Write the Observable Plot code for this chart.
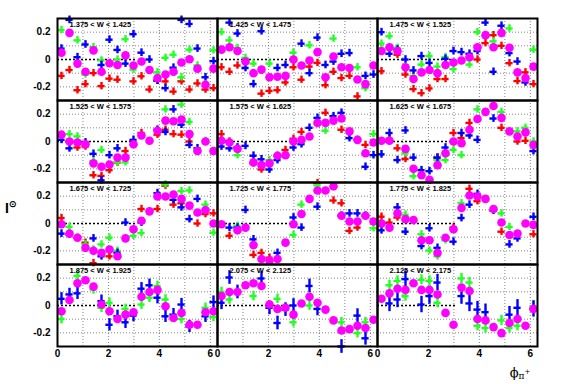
<!DOCTYPE html>
<html><head><meta charset="utf-8">
<script src="https://cdn.jsdelivr.net/npm/d3@7"></script>
<script src="https://cdn.jsdelivr.net/npm/@observablehq/plot@0.6"></script>
<style>body{margin:0;background:#fff} #chart{width:567px;height:384px}</style>
</head><body><div id="chart"></div>
<script>
// ---- data ----
const panelLabels = [
  "1.375 < W < 1.425", "1.425 < W < 1.475", "1.475 < W < 1.525",
  "1.525 < W < 1.575", "1.575 < W < 1.625", "1.625 < W < 1.675",
  "1.675 < W < 1.725", "1.725 < W < 1.775", "1.775 < W < 1.825",
  "1.875 < W < 1.925", "2.075 < W < 2.125", "2.125 < W < 2.175"
];
const nBins = 20;
const xTicks = [0, 2, 4, 6];
const yTicks = [-0.2, 0, 0.2];
const xGrid = [1, 2, 3, 4, 5, 6];
const yGrid = [-0.2, -0.1, 0.1, 0.2];

const red = [
  [-0.12,-0.077,-0.225,-0.18,-0.10,-0.195,-0.14,-0.148,null,-0.16,-0.123,-0.22,-0.155,-0.16,-0.235,-0.16,-0.22,-0.175,-0.22,-0.21],
  [-0.057,-0.09,-0.044,null,null,-0.25,-0.23,-0.225,-0.168,-0.057,-0.148,-0.052,-0.025,-0.188,-0.09,-0.136,-0.12,-0.27,null,null],
  [-0.086,null,0.035,-0.11,-0.217,-0.247,-0.212,-0.143,-0.143,null,null,null,0.0,0.12,0.178,0.1,-0.027,-0.158,-0.094,-0.18],
  [null,null,-0.044,-0.037,-0.247,-0.252,-0.21,-0.155,-0.07,null,0.062,null,0.05,0.086,0.054,0.05,0.0,null,null,null],
  [0.054,0.0,null,null,-0.16,-0.205,null,-0.104,-0.062,0.02,0.07,null,null,0.21,null,0.086,null,0.012,-0.025,null],
  [null,0.02,-0.05,-0.128,null,null,null,-0.118,null,0.062,0.025,0.136,null,null,null,0.1,null,0.0,0.005,null],
  [0.04,null,-0.104,-0.14,-0.29,null,-0.24,null,null,null,0.106,null,0.106,0.277,0.138,0.148,null,0.0,0.069,0.074],
  [null,-0.09,null,null,-0.23,-0.215,-0.25,null,null,null,null,null,0.296,null,0.168,0.148,-0.054,-0.03,null,null],
  [0.05,0.007,0.044,null,null,null,null,null,null,-0.03,null,0.254,0.163,null,null,-0.06,null,null,null,-0.079],
  null, null, null
];
const green = [
  [0.215,null,0.14,-0.11,0.09,-0.007,null,0.0,0.148,-0.074,null,null,-0.094,0.012,0.035,-0.13,0.072,-0.044,null,0.067],
  [0.2,0.14,0.084,0.012,-0.03,null,-0.03,null,null,0.05,null,0.104,null,null,0.153,null,null,-0.057,-0.21,null],
  [0.116,0.17,0.086,null,-0.12,-0.037,0.025,-0.052,0.017,-0.07,null,-0.037,0.2,null,0.133,null,0.227,null,null,0.072],
  [null,0.054,0.037,null,-0.143,-0.062,null,-0.153,-0.153,null,null,null,null,0.235,null,0.27,0.143,-0.07,0.005,null],
  [null,null,-0.1,null,null,null,-0.136,null,null,null,null,null,null,0.079,null,null,null,null,null,0.054],
  [null,null,null,-0.086,-0.254,null,null,-0.136,-0.136,-0.062,-0.1,null,0.235,null,null,0.217,null,0.074,0.1,0.0],
  [null,-0.025,null,-0.153,-0.19,-0.153,-0.104,-0.2,null,-0.09,-0.07,null,null,0.286,null,0.237,0.242,null,0.138,-0.067],
  [null,null,-0.017,null,null,null,null,null,null,-0.084,0.138,null,0.279,null,null,null,null,null,null,-0.035],
  [null,null,null,0.064,null,-0.079,-0.198,-0.24,-0.123,null,0.148,null,null,null,null,0.074,-0.025,null,null,null],
  [-0.099,null,0.217,null,0.118,-0.017,0.02,null,-0.025,null,0.007,0.057,0.143,0.044,null,-0.099,null,null,-0.017,-0.084],
  [0.099,0.044,null,null,0.069,null,null,0.049,null,-0.123,null,0.0,null,null,null,-0.123,null,-0.202,-0.123,null],
  [null,0.148,0.18,0.069,null,0.188,0.18,0.02,null,null,0.198,0.168,-0.148,-0.165,null,-0.109,-0.165,-0.148,null,-0.005]
];
const blue = [
  [0.08,0.29,0.017,0.11,null,-0.04,0.145,0.07,-0.03,0.185,0.05,0.0,-0.155,-0.21,-0.06,0.29,0.26,0.08,-0.13,-0.012],
  [null,0.27,0.19,-0.062,-0.18,0.207,null,-0.062,-0.04,null,0.116,-0.1,0.16,-0.04,-0.015,0.042,0.047,null,-0.12,-0.11],
  [0.2,0.042,0.072,0.0,-0.08,0.025,-0.025,null,0.005,0.062,0.054,0.042,0.062,0.27,-0.09,0.247,0.047,-0.015,-0.168,null],
  [0.012,-0.05,null,-0.007,-0.09,-0.284,-0.1,-0.05,null,0.012,null,null,0.086,0.07,0.235,0.123,-0.025,-0.05,null,null],
  [-0.037,-0.05,-0.044,-0.032,-0.104,-0.13,-0.205,-0.136,null,-0.044,-0.02,0.1,0.173,null,0.185,0.21,0.025,null,-0.185,-0.1],
  [-0.094,0.062,-0.136,0.081,-0.118,-0.21,-0.217,-0.118,-0.044,null,0.062,0.044,0.012,null,0.168,null,null,null,null,-0.07],
  [-0.074,-0.079,null,null,-0.109,-0.24,null,-0.215,0.007,null,0.007,null,0.222,null,0.173,0.118,0.032,0.18,null,null],
  [null,-0.03,-0.03,0.099,-0.116,null,null,-0.215,null,0.044,-0.03,null,0.123,null,null,0.057,0.074,0.074,0.057,null],
  [-0.05,null,0.118,-0.06,null,-0.165,-0.035,-0.178,null,-0.133,0.04,0.138,0.217,null,0.094,null,-0.153,-0.109,null,0.049],
  [0.049,0.081,0.089,null,null,0.032,-0.141,-0.079,-0.123,-0.074,0.123,0.148,0.057,-0.079,-0.067,0.007,-0.153,null,-0.079,0.025],
  [0.02,0.205,0.099,null,null,0.198,-0.017,-0.128,-0.03,0.0,null,0.143,-0.025,null,null,-0.3,null,-0.074,-0.24,null],
  [null,0.015,0.044,0.193,null,0.007,0.069,0.168,null,null,0.069,0.015,-0.03,-0.049,null,null,-0.067,-0.017,null,-0.025]
];
const magenta = [
  [0.05,0.195,-0.03,-0.09,0.067,-0.09,-0.027,-0.04,0.03,-0.044,-0.015,-0.077,-0.136,-0.11,-0.09,-0.022,0.002,-0.067,-0.185,-0.067],
  [0.072,0.09,0.062,-0.015,-0.10,-0.074,-0.13,-0.126,-0.12,0.0,-0.044,-0.007,0.054,-0.13,0.022,-0.057,-0.062,-0.146,-0.18,-0.044],
  [0.062,0.09,0.062,-0.057,-0.143,-0.094,-0.077,-0.10,-0.04,-0.022,-0.007,0.017,0.09,0.178,0.09,0.195,0.086,-0.094,-0.136,-0.052],
  [0.05,0.0,-0.007,-0.02,-0.16,-0.185,-0.168,-0.118,-0.118,-0.02,0.044,0.005,0.079,0.153,0.148,0.16,0.054,-0.07,0.0,-0.07],
  [0.005,-0.007,-0.054,null,-0.153,-0.173,-0.16,-0.104,-0.1,0.0,0.012,0.037,0.136,0.136,0.153,0.168,0.074,0.012,-0.086,-0.007],
  [0.005,0.005,null,-0.054,-0.2,-0.247,-0.28,-0.173,-0.086,0.0,-0.012,0.086,0.165,0.217,0.26,0.173,0.074,0.037,0.067,-0.025],
  [-0.005,-0.074,-0.104,-0.178,-0.2,-0.215,-0.19,-0.24,-0.109,-0.042,0.02,0.089,0.198,0.198,0.212,0.18,0.131,0.081,0.099,0.0],
  [-0.005,null,-0.05,-0.03,-0.158,-0.26,-0.272,-0.26,-0.14,-0.005,0.069,0.18,0.242,0.242,0.272,0.057,0.015,0.015,0.057,0.015],
  [0.0,-0.03,0.074,0.032,0.025,-0.123,-0.123,-0.215,-0.104,-0.042,0.114,0.205,0.198,0.18,0.106,0.007,-0.084,-0.074,0.0,-0.01],
  [-0.042,0.04,0.163,0.185,0.138,0.007,-0.042,-0.099,-0.067,-0.049,0.064,0.099,0.114,-0.005,-0.091,-0.054,-0.141,-0.141,-0.049,-0.042],
  [0.069,0.099,0.099,0.148,0.163,0.143,0.007,-0.025,-0.017,-0.067,0.015,0.064,0.02,-0.03,-0.109,-0.183,-0.173,-0.148,-0.165,-0.104],
  [0.049,0.089,0.123,0.114,0.163,0.114,0.114,0.081,-0.054,-0.141,0.131,0.106,-0.099,-0.109,-0.158,-0.202,-0.128,-0.099,-0.148,-0.025]
];
const errRed   = [0.027,0.027,0.027,0.027,0.027,0.027,0.027,0.027,0.027,0,0,0];
const errGreen = [0.027,0.027,0.027,0.027,0.027,0.027,0.027,0.027,0.027,0.035,0.035,0.037];
const errBlue  = [0.028,0.028,0.028,0.028,0.028,0.028,0.028,0.028,0.028,0.045,0.05,0.06];

// ---- build ----
const phi = d3.range(nBins).map(i => (i + 0.5) * 2 * Math.PI / nBins);
const halfBin = Math.PI / nBins * 0.9;

function toRows(series, err) {
  const out = [];
  series.forEach((vals, p) => {
    if (!vals) return;
    vals.forEach((v, i) => {
      if (v == null) return;
      out.push({row: Math.floor(p / 3), col: p % 3, phi: phi[i], v, e: err ? err[p] : 0});
    });
  });
  return out;
}
const labelRows = panelLabels.map((t, p) => ({row: Math.floor(p / 3), col: p % 3, t}));

function crosses(data, color) {
  return [
    Plot.ruleX(data, {x: "phi", y1: d => d.v - d.e, y2: d => d.v + d.e, fx: "col", fy: "row", stroke: color, strokeWidth: 2.4}),
    Plot.ruleY(data, {y: "v", x1: d => d.phi - halfBin, x2: d => d.phi + halfBin, fx: "col", fy: "row", stroke: color, strokeWidth: 2.4})
  ];
}

const svg = Plot.plot({
  width: 567, height: 384,
  marginLeft: 57, marginRight: 30, marginTop: 18, marginBottom: 38,
  style: {fontFamily: "Liberation Sans, Arial, sans-serif", fontWeight: "bold", fontSize: "10px", background: "white"},
  fx: {domain: [0, 1, 2], axis: null, padding: 0},
  fy: {domain: [0, 1, 2, 3], axis: null, padding: 0},
  x: {domain: [0, 2 * Math.PI], ticks: xTicks, tickFormat: d => String(d), tickSize: 0, tickPadding: 3, label: null},
  y: {domain: [-0.3, 0.3], ticks: yTicks, tickFormat: d => d === 0 ? "0" : d.toFixed(1), tickSize: 0, tickPadding: 7, label: null},
  marks: [
    Plot.ruleX(xGrid, {stroke: "#666", strokeWidth: 0.8, strokeDasharray: "1,2"}),
    Plot.ruleY(yGrid, {stroke: "#666", strokeWidth: 0.8, strokeDasharray: "1,2"}),
    Plot.ruleY([0], {x1: 0, x2: Math.PI, stroke: "black", strokeWidth: 1.6, strokeDasharray: "2,2"}),
    ...crosses(toRows(red, errRed), "#ff0000"),
    ...crosses(toRows(green, errGreen), "#22ff22"),
    ...crosses(toRows(blue, errBlue), "#0000ff"),
    Plot.dot(toRows(magenta, null), {x: "phi", y: "v", fx: "col", fy: "row", r: 4.3, fill: "#ff00ff", stroke: "none"}),
    Plot.text(labelRows, {text: "t", fx: "col", fy: "row", frameAnchor: "top-left", textAnchor: "start", lineAnchor: "top", dx: 12, dy: 3, fontSize: 7.5, fontWeight: "bold", fill: "black"}),
    Plot.frame({stroke: "black", strokeWidth: 2})
  ]
});

const s = d3.select(svg);
// y-axis title
const yt = s.append("text").attr("x", 11).attr("y", 213)
  .style("font-family", "Liberation Sans, Arial, sans-serif").style("font-weight", "bold").style("font-size", "14px");
yt.append("tspan").text("I");
yt.append("tspan").attr("dy", -6).style("font-size", "9px").text("\u2299");
// x-axis title
const xt = s.append("text").attr("x", 520).attr("y", 377)
  .style("font-family", "DejaVu Serif, serif").style("font-weight", "normal").style("font-size", "13px");
xt.append("tspan").text("\u03D5");
xt.append("tspan").attr("dy", 2).style("font-size", "9px").text("\u03C0");
xt.append("tspan").attr("dy", -5).style("font-size", "7px").text("+");

document.getElementById("chart").appendChild(svg);
</script>
</body></html>
